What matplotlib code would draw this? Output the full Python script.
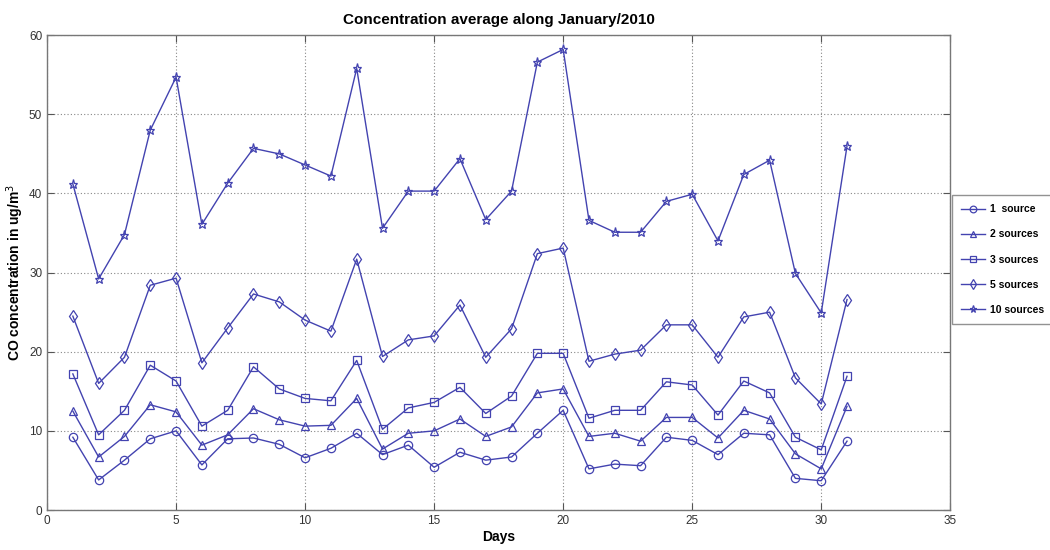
import matplotlib
matplotlib.use("Agg")
import matplotlib.pyplot as plt

days = list(range(1, 32))

one_source = [9.2, 3.8, 6.3, 9.0, 10.0, 5.7, 9.0, 9.1, 8.3, 6.6, 7.8, 9.7, 7.0, 8.2, 5.4, 7.3,
              6.3, 6.7, 9.7, 12.6, 5.2, 5.8, 5.6, 9.2, 8.8, 7.0, 9.7, 9.5, 4.0, 3.7, 8.7]
two_sources = [12.5, 6.7, 9.3, 13.3, 12.4, 8.2, 9.5, 12.8, 11.4, 10.6, 10.7, 14.1, 7.7, 9.7, 10.0, 11.5,
               9.3, 10.5, 14.8, 15.3, 9.3, 9.7, 8.7, 11.7, 11.7, 9.1, 12.6, 11.5, 7.1, 5.2, 13.1]
three_sources = [17.2, 9.5, 12.6, 18.3, 16.3, 10.6, 12.6, 18.1, 15.3, 14.1, 13.8, 18.9, 10.2, 12.9, 13.6, 15.5,
                 12.2, 14.4, 19.8, 19.8, 11.6, 12.6, 12.6, 16.2, 15.8, 12.0, 16.3, 14.8, 9.2, 7.6, 16.9]
five_sources = [24.5, 16.0, 19.3, 28.4, 29.3, 18.6, 23.0, 27.3, 26.3, 24.0, 22.6, 31.7, 19.4, 21.5, 22.0, 25.9,
                19.3, 22.9, 32.4, 33.1, 18.8, 19.7, 20.2, 23.4, 23.4, 19.3, 24.4, 25.0, 16.7, 13.4, 26.6]
ten_sources = [41.2, 29.2, 34.8, 48.0, 54.7, 36.1, 41.3, 45.7, 45.0, 43.6, 42.2, 55.8, 35.6, 40.3, 40.3, 44.4,
               36.7, 40.3, 56.6, 58.2, 36.6, 35.1, 35.1, 39.0, 39.9, 34.0, 42.4, 44.2, 29.9, 24.9, 46.0]

series_labels = ["1  source", "2 sources", "3 sources", "5 sources", "10 sources"]
series_markers = ["o", "^", "s", "d", "*"]
x_ticks = [0, 5, 10, 15, 20, 25, 30, 35]
y_ticks = [0, 10, 20, 30, 40, 50, 60]

plt.rcParams["font.family"] = ["Liberation Sans", "DejaVu Sans"]

line_color = "#4343b0"

fig = plt.figure(figsize=(10.5, 5.5), dpi=100)
ax = fig.add_axes([0.0448, 0.0727, 0.8602, 0.8633])

for values, label, marker in zip(
        [one_source, two_sources, three_sources, five_sources, ten_sources],
        series_labels, series_markers):
    ax.plot(days, values, color=line_color, linewidth=1.0, marker=marker,
            markersize=6 if marker != "*" else 6.5, markerfacecolor="none",
            markeredgecolor=line_color, markeredgewidth=0.9, label=label)

ax.set_xlim(0, 35)
ax.set_ylim(0, 60)
ax.set_xticks(x_ticks)
ax.set_yticks(y_ticks)
ax.tick_params(direction="in", top=True, right=True, length=5, width=0.8,
               labelsize=8.5, color="#555555", labelcolor="#333333")
ax.grid(True, linestyle=(0, (1, 2)), color="#888888", linewidth=0.8)
for spine in ax.spines.values():
    spine.set_color("#777777")
    spine.set_linewidth(1.0)

ax.set_title("Concentration average along January/2010", fontsize=11,
             fontweight="bold", pad=8)
ax.set_xlabel("Days", fontsize=10, fontweight="bold", labelpad=2)
ax.set_ylabel("CO concentration in ug/m$^3$", fontsize=10, fontweight="bold")
ax.yaxis.set_label_coords(-0.023, 0.5)

leg = fig.legend(loc="upper left", bbox_to_anchor=(952 / 1050, 1 - 195 / 550),
                 prop={"weight": "bold", "size": 7.5}, frameon=True,
                 fancybox=False, edgecolor="#777777", handlelength=2.3,
                 labelspacing=1.45, borderpad=0.9, handletextpad=0.4,
                 markerscale=0.8, borderaxespad=0.0)
leg.get_frame().set_linewidth(1.0)

fig.savefig("out.png", dpi=100)
